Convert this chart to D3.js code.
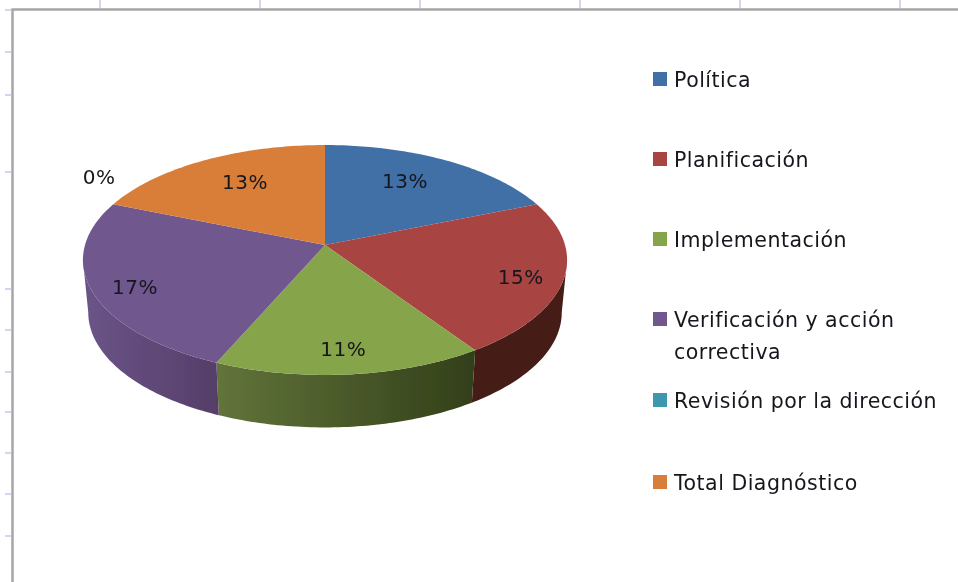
<!DOCTYPE html>
<html>
<head>
<meta charset="utf-8">
<script src="https://cdn.jsdelivr.net/npm/d3@7"></script>
<style>
  html, body { margin: 0; background: #fff; overflow: hidden; }
  text { font-family: "DejaVu Sans", sans-serif; fill: #16161c; letter-spacing: 0.5px; }
</style>
</head>
<body>
<svg id="chart" width="958" height="582"></svg>
<script>
const categories = ["Política", "Planificación", "Implementación", "Verificación y acción correctiva", "Revisión por la dirección", "Total Diagnóstico"];
const values = [13, 15, 11, 17, 0, 13];
const topColors = ["#416fa6", "#a84442", "#86a44a", "#70588f", "#3d97af", "#d97e38"];
const wallFrom = ["#416fa6", "#441b18", "#62743a", "#6b5488", "#3d97af", "#d97e38"];
const wallTo = ["#416fa6", "#441b18", "#323f19", "#553e68", "#3d97af", "#d97e38"];
const columnTicks = [100, 260, 420, 580, 740, 900];
const rowTicks = [10, 52, 95, 172, 289, 330, 372, 412, 453, 494, 536];

// label placement: radial fraction of the pie, plus a small nudge
const labelRadius = [0.63, 0.83, 0.83, 0.82, 1.05, 0.63];
const labelNudge = [[1, -9], [-1, 4], [-2, -1], [0, 6], [-4, -25], [-1, -8]];
const legendRows = [79, 159, 239, 319, 400, 482];

const svg = d3.select("#chart");
const defs = svg.append("defs");

defs.append("filter").attr("id", "soft")
  .append("feGaussianBlur").attr("stdDeviation", 0.45);

// the surrounding worksheet
const sheet = svg.append("g").attr("stroke", "#cfd8ec").attr("stroke-width", 2);
sheet.selectAll(".col").data(columnTicks).enter().append("line")
  .attr("x1", d => d).attr("x2", d => d).attr("y1", 0).attr("y2", 8);
sheet.selectAll(".row").data(rowTicks).enter().append("line")
  .attr("x1", 5).attr("x2", 11).attr("y1", d => d).attr("y2", d => d);

svg.append("path")
  .attr("d", "M12.5 582V9.5H958")
  .attr("fill", "none").attr("stroke", "#a6a6a6").attr("stroke-width", 2.5);

// pie on a tilted disc: a projective map from the unit circle to the screen
const cx = 325, cy = 245, R = 240, K = 113, tilt = -0.1304, depth = 52.5, baseShrink = 0.978;
function project(theta, f = 1) {
  const u = Math.sin(theta) * f, v = -Math.cos(theta) * f, w = 1 + tilt * v;
  return [cx + R * u / w, cy + K * v / w];
}
function base(theta) {
  const p = project(theta);
  return [cx + (p[0] - cx) * baseShrink, p[1] + depth];
}

const slices = d3.pie().sort(null).value(d => d)(values);
const line = d3.line();
const step = Math.PI / 180;
const sweep = (a, b) => d3.range(a, b, step).concat([b]);

// the wall is only visible between the two side tangents of the disc
const rightEdge = Math.acos(tilt);
const leftEdge = 2 * Math.PI - rightEdge;

const pie = svg.append("g").attr("filter", "url(#soft)");

slices.forEach((s, i) => {
  const a = Math.max(s.startAngle, rightEdge), b = Math.min(s.endAngle, leftEdge);
  if (b <= a) return;
  const grad = defs.append("linearGradient").attr("id", "wall" + i);
  grad.append("stop").attr("offset", 0).attr("stop-color", wallFrom[i]);
  grad.append("stop").attr("offset", 1).attr("stop-color", wallTo[i]);
  const t = sweep(a, b);
  const pts = t.map(x => project(x)).concat(t.slice().reverse().map(base));
  pie.append("path")
    .attr("d", line(pts) + "Z")
    .attr("fill", "url(#wall" + i + ")");
});

pie.selectAll(".slice").data(slices).enter().append("path")
  .attr("class", "slice")
  .attr("d", s => line([[cx, cy]].concat(sweep(s.startAngle, s.endAngle).map(x => project(x)))) + "Z")
  .attr("fill", (s, i) => topColors[i]);

const labels = svg.append("g").attr("filter", "url(#soft)");
labels.selectAll("text").data(slices).enter().append("text")
  .attr("x", (s, i) => project((s.startAngle + s.endAngle) / 2, labelRadius[i])[0] + labelNudge[i][0])
  .attr("y", (s, i) => project((s.startAngle + s.endAngle) / 2, labelRadius[i])[1] + labelNudge[i][1])
  .attr("text-anchor", "middle")
  .attr("dominant-baseline", "central")
  .attr("font-size", 20)
  .text(s => s.value + "%");

// legend
const legend = svg.append("g").attr("filter", "url(#soft)");
categories.forEach((name, i) => {
  const y = legendRows[i];
  legend.append("rect").attr("x", 653).attr("y", y - 7).attr("width", 14).attr("height", 14)
    .attr("fill", topColors[i]);
  const lines = name === "Verificación y acción correctiva" ? ["Verificación y acción", "correctiva"] : [name];
  lines.forEach((l, k) => {
    legend.append("text").attr("x", 674).attr("y", y + k * 32 + 8).attr("font-size", 20.5).text(l);
  });
});
</script>
</body>
</html>
